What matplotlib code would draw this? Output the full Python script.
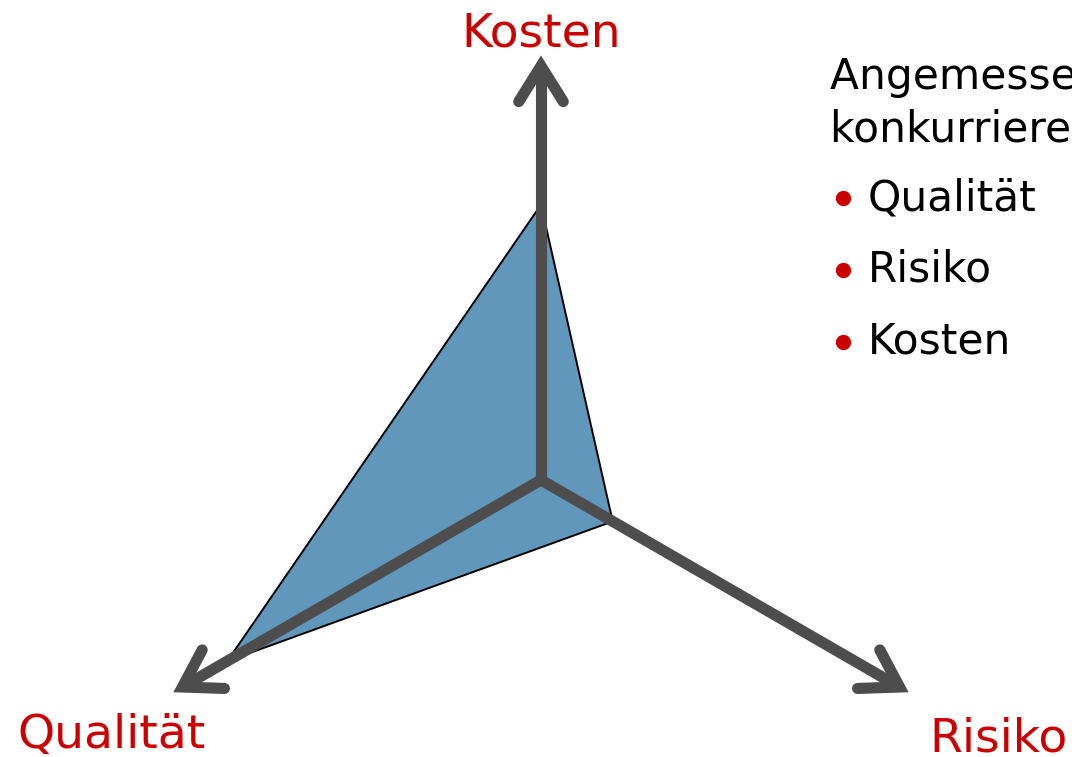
import matplotlib.pyplot as plt
import numpy as np

# axes of the triangle diagram and the values on them (1.0 = arrow tip)
axis_names = ["Kosten", "Risiko", "Qualität"]
axis_angles = [90, -30, 210]
values = [0.665, 0.2, 0.875]
bullets = ["Qualität", "Risiko", "Kosten"]
header = ["Angemessene Balance", "konkurrierender Ziele"]

red = "#cc0000"
grey = "#4d4d4d"

fig = plt.figure(figsize=(10.72, 7.57), dpi=100)
ax = fig.add_axes([0, 0, 1, 1])
ax.set_xlim(0, 1072)
ax.set_ylim(757, 0)
ax.axis("off")

cx, cy = 541, 480
L = 414  # pixels for 1.0

ang = np.radians(axis_angles)
dx = np.cos(ang)
dy = -np.sin(ang)

# filled polygon
px = cx + L * np.array(values) * dx
py = cy + L * np.array(values) * dy
ax.fill(px, py, color="#6097bb", ec="black", lw=1.4, zorder=1)

# arrows
for i in range(3):
    tx, ty = cx + L * dx[i], cy + L * dy[i]
    ax.plot([cx, tx - 4 * dx[i]], [cy, ty - 4 * dy[i]], color=grey, lw=8,
            solid_capstyle="round", zorder=2)
    arm = 42
    a1 = ang[i] + np.radians(180 - 32)
    a2 = ang[i] - np.radians(180 - 32)
    xs = [tx + arm * np.cos(a1), tx, tx + arm * np.cos(a2)]
    ys = [ty - arm * np.sin(a1), ty, ty - arm * np.sin(a2)]
    ax.plot(xs, ys, color=grey, lw=8, solid_capstyle="round",
            solid_joinstyle="miter", zorder=2)

# axis labels
ax.text(541, 34, axis_names[0], color=red, fontsize=34, ha="center", va="center")
ax.text(1068, 739, axis_names[1], color=red, fontsize=34, ha="right", va="center")
ax.text(17, 735, axis_names[2], color=red, fontsize=34, ha="left", va="center")

# text on the right
ax.text(830, 77, header[0], fontsize=30.5, ha="left", va="center", color="black")
ax.text(830, 129, header[1], fontsize=30.5, ha="left", va="center", color="black")
for j, b in enumerate(bullets):
    y = 198 + j * 72
    ax.plot(843, y, "o", color=red, ms=10)
    ax.text(868, y, b, fontsize=30.5, ha="left", va="center", color="black")

fig.savefig("out.png", dpi=100)
